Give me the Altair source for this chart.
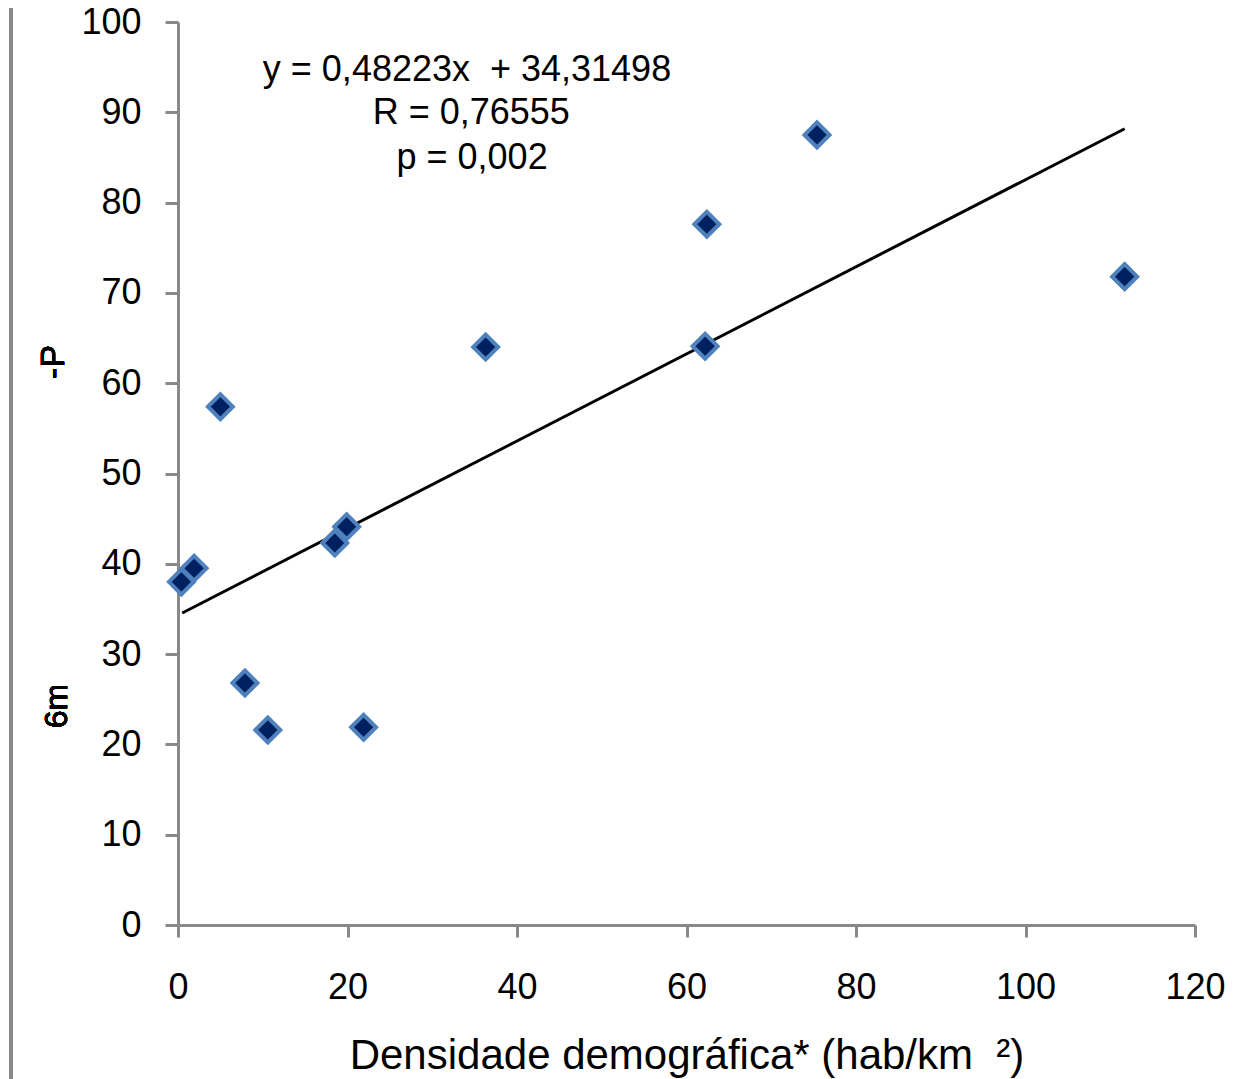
import altair as alt
import pandas as pd

# Scatter points
dens = [0.4, 1.9, 5.0, 7.9, 10.6, 18.5, 19.9, 21.9, 36.3, 62.2, 62.4, 75.4, 111.7]
vals = [38.0, 39.5, 57.4, 26.8, 21.6, 42.3, 44.1, 21.9, 64.0, 64.1, 77.6, 87.5, 71.8]

# Trendline end points (as drawn)
line_x = [0.5, 111.7]
line_y = [34.55, 88.18]

# Equation annotation
ann_text = ["y = 0,48223x\u00a0\u00a0+ 34,31498", "R = 0,76555", "p = 0,002"]
ann_x = [34.1, 34.6, 34.7]
ann_y = [94.7, 89.9, 84.9]

x_ticks = [0, 20, 40, 60, 80, 100, 120]
y_ticks = [0, 10, 20, 30, 40, 50, 60, 70, 80, 90, 100]
x_title = "Densidade demográfica* (hab/km\u00a0\u00a0²)"

FONT = "Liberation Sans"
GRAY = "#898989"

pts = pd.DataFrame({"x": dens, "y": vals})
ln = pd.DataFrame({"x": line_x, "y": line_y})
ann = pd.DataFrame({"t": ann_text, "x": ann_x, "y": ann_y})

xs = alt.Scale(domain=[0, 120], nice=False, zero=False)
ys = alt.Scale(domain=[0, 100], nice=False, zero=False)

xaxis = alt.Axis(values=x_ticks, title=x_title, grid=False, domainColor=GRAY, domainWidth=3,
                 tickColor=GRAY, tickWidth=3, tickSize=12, labelFont=FONT, labelFontSize=36,
                 labelColor="black", labelPadding=33, labelFlush=False, titleFont=FONT,
                 titleFontSize=42, titleFontWeight="normal", titleColor="black",
                 titleY=143, titleBaseline="alphabetic")
yaxis = alt.Axis(values=y_ticks, title=None, grid=False, domainColor=GRAY, domainWidth=3,
                 tickColor=GRAY, tickWidth=3, tickSize=13, labelFont=FONT, labelFontSize=36,
                 labelColor="black", labelPadding=24, labelFlush=False)

base_pts = alt.Chart(pts).mark_point(shape="diamond", filled=True, fill="#00215f",
                                     stroke="#4f81bd", strokeWidth=4, size=620, opacity=1).encode(
    x=alt.X("x:Q", scale=xs, axis=xaxis),
    y=alt.Y("y:Q", scale=ys, axis=yaxis),
)

trend = alt.Chart(ln).mark_line(color="black", strokeWidth=3).encode(
    x=alt.X("x:Q", scale=xs), y=alt.Y("y:Q", scale=ys)
)

txt = alt.Chart(ann).mark_text(font=FONT, fontSize=36, align="center", baseline="middle",
                               color="black").encode(
    x=alt.X("x:Q", scale=xs), y=alt.Y("y:Q", scale=ys), text="t:N"
)

border = alt.Chart(pts).mark_rule(color=GRAY, strokeWidth=3).encode(
    x=alt.value(-167), y=alt.value(-14), y2=alt.value(1070)
)

frag1 = alt.Chart(pts).mark_text(font=FONT, fontSize=34, angle=270, color="black",
                                 align="center", baseline="middle", text="-P").encode(
    x=alt.value(-124), y=alt.value(340)
)
frag2 = alt.Chart(pts).mark_text(font=FONT, fontSize=32, angle=270, color="black",
                                 align="center", baseline="middle", text="6m").encode(
    x=alt.value(-121), y=alt.value(684)
)

chart = alt.layer(trend, base_pts, txt, border, frag1, frag2).properties(
    width=1017, height=903,
    background="white",
    autosize=alt.AutoSizeParams(type="none"),
    padding={"left": 170, "top": 14, "right": 31, "bottom": 154},
).configure_view(stroke=None, strokeWidth=0)

chart.save("out.html", embed_options={"renderer": "svg", "actions": False})
